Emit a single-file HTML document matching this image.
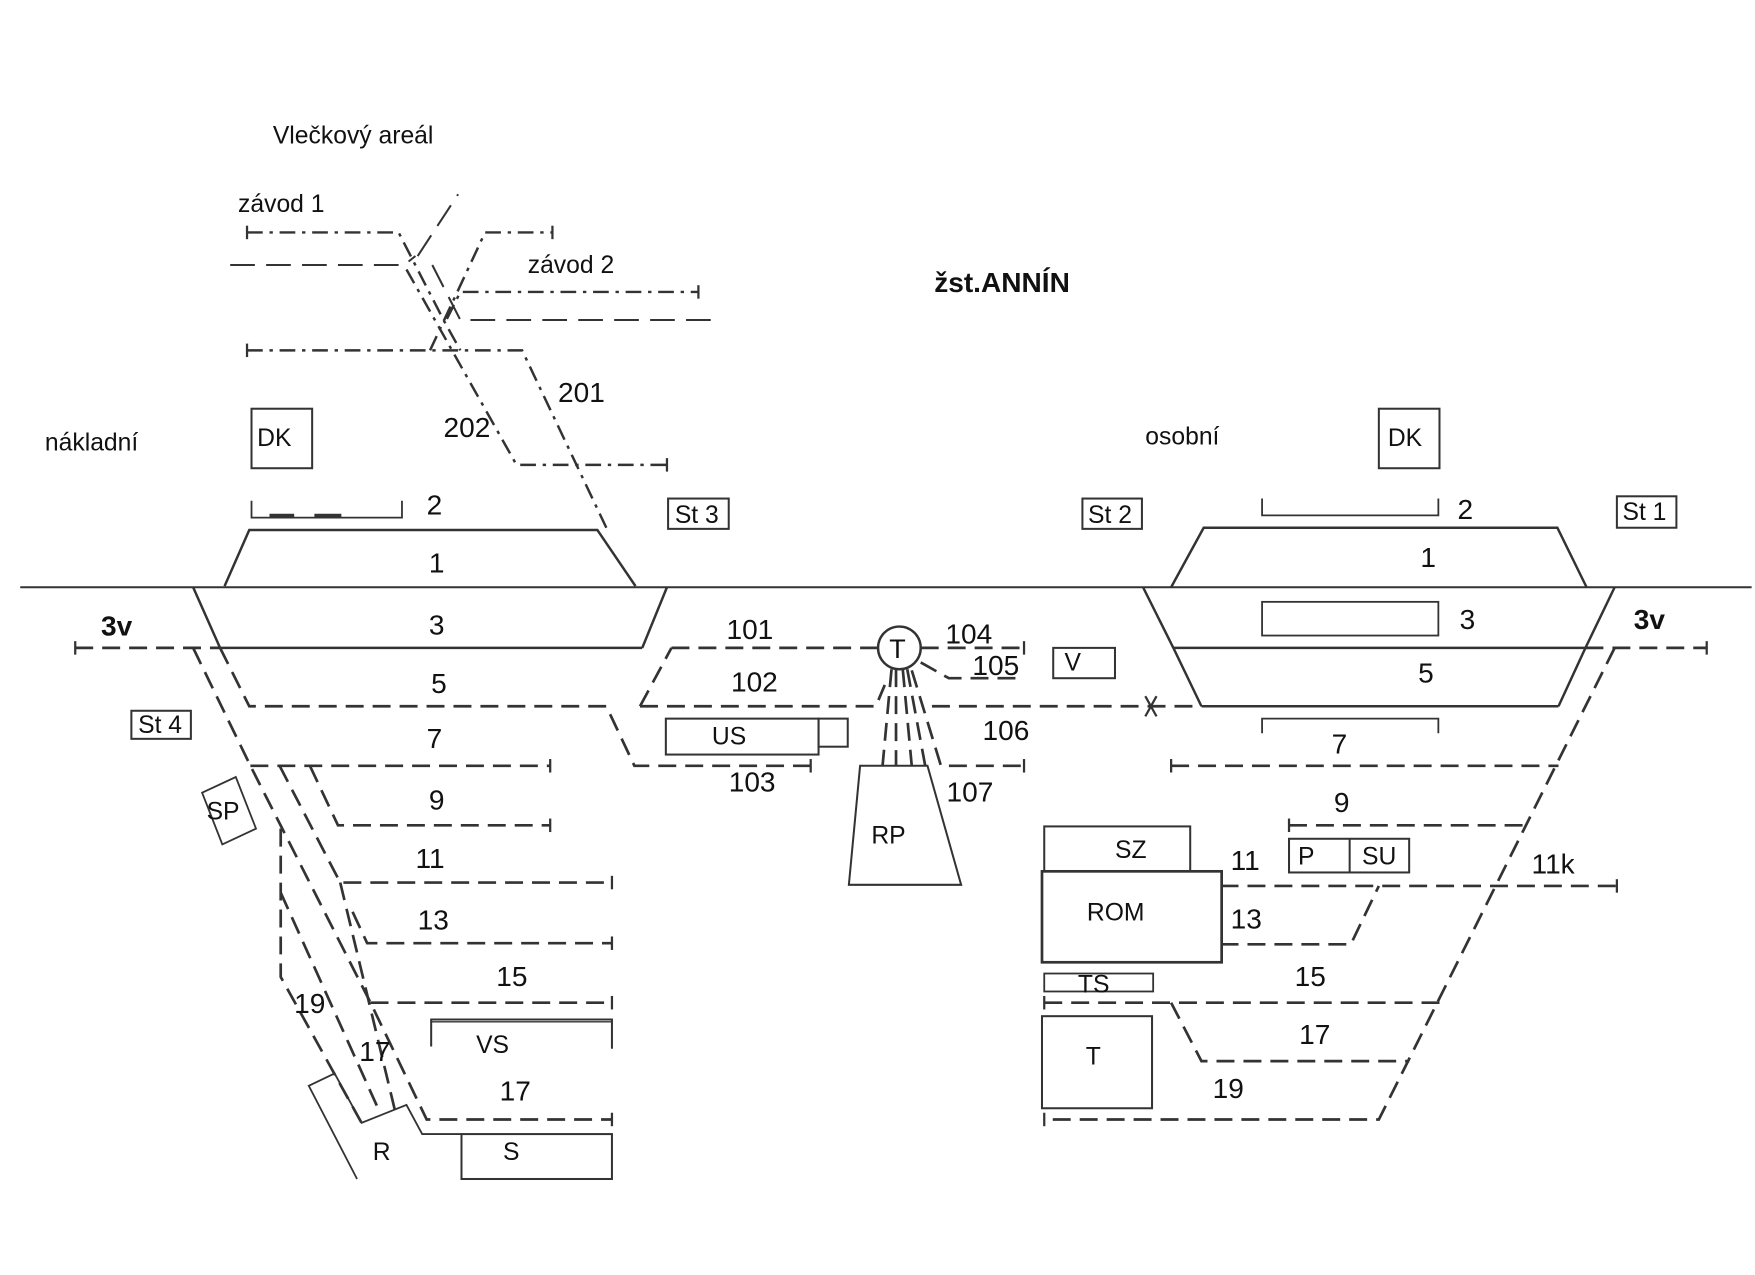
<!DOCTYPE html>
<html><head><meta charset="utf-8"><style>
html,body{margin:0;padding:0;background:#fff;}
svg{display:block;}
text{font-family:"Liberation Sans","DejaVu Sans",sans-serif;fill:#111;}
</style></head><body>
<svg width="1755" height="1275" viewBox="0 0 1563 1135.5" preserveAspectRatio="none" xmlns="http://www.w3.org/2000/svg">
<g fill="none" stroke="#333" stroke-width="2.2">
<line x1="18" y1="523" x2="1560" y2="523" stroke-width="1.8"/>
<polyline points="200,522 222,472 532,472 566,522"/>
<line x1="172" y1="523" x2="196" y2="577"/>
<line x1="594" y1="523" x2="572" y2="577"/>
<line x1="196" y1="577" x2="572" y2="577"/>
<polyline points="1043,523 1072,470 1387,470 1413,523"/>
<line x1="1018" y1="523" x2="1045" y2="577"/>
<line x1="1438" y1="523" x2="1412" y2="577"/>
<line x1="1045" y1="577" x2="1412" y2="577"/>
<line x1="1045" y1="577" x2="1070" y2="629"/>
<line x1="1412" y1="577" x2="1388" y2="629"/>
<line x1="1070" y1="629" x2="1388" y2="629"/>
<rect x="224" y="364" width="54" height="53" stroke-width="1.8"/>
<rect x="1228" y="364" width="54" height="53" stroke-width="1.8"/>
<rect x="595" y="444" width="54" height="27" stroke-width="1.8"/>
<rect x="964" y="444" width="53" height="27" stroke-width="1.8"/>
<rect x="1440" y="442" width="53" height="28" stroke-width="1.8"/>
<rect x="117" y="633" width="53" height="25" stroke-width="1.8"/>
<rect x="938" y="577" width="55" height="27" stroke-width="1.8"/>
<rect x="593" y="640" width="136" height="32" stroke-width="1.8"/>
<rect x="729" y="640" width="26" height="25" stroke-width="1.8"/>
<polygon points="766,682 826,682 856,788 756,788" stroke-width="1.8"/>
<polygon points="180,706 210,692 228,738 198,752" stroke-width="1.6"/>
<rect x="930" y="736" width="130" height="40" stroke-width="1.8"/>
<rect x="928" y="776" width="160" height="81" stroke-width="2.4"/>
<rect x="1148" y="747" width="107" height="30" stroke-width="1.8"/>
<line x1="1202" y1="747" x2="1202" y2="777" stroke-width="1.8"/>
<rect x="930" y="867" width="97" height="16" stroke-width="1.6"/>
<rect x="928" y="905" width="98" height="82" stroke-width="1.8"/>
<rect x="411" y="1010" width="134" height="40" stroke-width="1.8"/>
<polyline points="384,932 384,908 545,908 545,934" stroke-width="1.8"/>
<line x1="384" y1="910" x2="545" y2="910" stroke-width="1.2"/>
<polyline points="318,1050 275,967 298,956 322,1000 362,984 376,1010 411,1010" stroke-width="1.6"/>
<polyline points="224,446 224,461 358,461 358,446" stroke-width="1.6"/>
<line x1="240" y1="459" x2="262" y2="459" stroke-width="3"/><line x1="280" y1="459" x2="304" y2="459" stroke-width="3"/>
<polyline points="1124,444 1124,459 1281,459 1281,444" stroke-width="1.6"/>
<rect x="1124" y="536" width="157" height="30" stroke-width="1.6"/>
<polyline points="1124,653 1124,640 1281,640 1281,653" stroke-width="1.6"/>
<circle cx="801" cy="577" r="19"/>
</g>
<g fill="none" stroke="#333" stroke-width="2.4" stroke-dasharray="16 8">
<line x1="67" y1="577" x2="196" y2="577"/>
<line x1="598" y1="577" x2="782" y2="577"/>
<line x1="820" y1="577" x2="912" y2="577"/>
<polyline points="196,577 222,629 540,629 565,682 722,682"/>
<polyline points="570,629 598,577"/>
<polyline points="570,629 780,629 788,610"/>
<polyline points="830,629 1070,629"/>
<polyline points="812,597 838,682 912,682"/>
<polyline points="820,590 845,604 912,604"/>
<line x1="794" y1="596" x2="786" y2="682"/>
<line x1="798" y1="596" x2="798" y2="682"/>
<line x1="804" y1="596" x2="812" y2="682"/>
<line x1="808" y1="596" x2="824" y2="682"/>
<!-- left fan -->
<polyline points="172,577 223,682 330,893 380,997 545,997"/>
<polyline points="223,682 490,682"/>
<polyline points="276,682 301,735 490,735"/>
<polyline points="249,682 303,786 545,786"/>
<polyline points="303,786 352,990"/>
<polyline points="314,812 327,840 545,840"/>
<polyline points="330,893 545,893"/>
<polyline points="250,738 250,870 322,1000"/>
<polyline points="250,795 338,990"/>
<line x1="1412" y1="577" x2="1520" y2="577"/>
<polyline points="1438,577 1228,997 930,997"/>
<line x1="1043" y1="682" x2="1388" y2="682"/>
<line x1="1148" y1="735" x2="1362" y2="735"/>
<line x1="1087" y1="789" x2="1440" y2="789"/>
<polyline points="1087,841 1203,841 1228,789"/>
<line x1="930" y1="893" x2="1283" y2="893"/>
<polyline points="1043,893 1070,945 1255,945"/>
</g>
<g fill="none" stroke="#333" stroke-width="2.2" stroke-dasharray="14 6 3 6">
<polyline points="220,207 355,207 395,285 410,312"/>
<polyline points="220,312 465,312 540,470"/>
<polyline points="383,312 432,207 492,207"/>
<polyline points="398,284 410,260 622,260"/>
<polyline points="362,240 460,414 594,414"/>
</g>
<g fill="none" stroke="#333" stroke-width="1.8" stroke-dasharray="22 10">
<polyline points="205,236 360,236 370,228"/>
<polyline points="372,228 408,173"/>
<polyline points="385,236 410,285 640,285"/>
</g>
<g stroke="#333" stroke-width="2">
<line x1="67" y1="571" x2="67" y2="583"/><line x1="1520" y1="571" x2="1520" y2="583"/>
<line x1="220" y1="201" x2="220" y2="213"/><line x1="492" y1="201" x2="492" y2="213"/>
<line x1="220" y1="306" x2="220" y2="318"/><line x1="622" y1="254" x2="622" y2="266"/>
<line x1="594" y1="408" x2="594" y2="420"/>
<line x1="912" y1="571" x2="912" y2="583"/><line x1="912" y1="676" x2="912" y2="688"/>
<line x1="722" y1="676" x2="722" y2="688"/>
<line x1="490" y1="676" x2="490" y2="688"/><line x1="490" y1="729" x2="490" y2="741"/>
<line x1="545" y1="780" x2="545" y2="792"/><line x1="545" y1="834" x2="545" y2="846"/>
<line x1="545" y1="887" x2="545" y2="899"/><line x1="545" y1="991" x2="545" y2="1003"/>
<line x1="1440" y1="783" x2="1440" y2="795"/><line x1="930" y1="887" x2="930" y2="899"/>
<line x1="930" y1="991" x2="930" y2="1003"/><line x1="1043" y1="676" x2="1043" y2="688"/>
<line x1="1148" y1="729" x2="1148" y2="741"/>
<line x1="1020" y1="620" x2="1030" y2="638"/><line x1="1030" y1="620" x2="1020" y2="638"/>
</g>
<g font-size="22">
<text x="243" y="128">Vlečkový areál</text>
<text x="212" y="189">závod 1</text>
<text x="470" y="243">závod 2</text>
<text x="832" y="260" font-size="25" style="font-weight:600">žst.ANNÍN</text>
<text x="40" y="401">nákladní</text>
<text x="1020" y="396">osobní</text>
<text x="229" y="397">DK</text><text x="1236" y="397">DK</text>
<text x="601" y="466">St 3</text><text x="969" y="466">St 2</text><text x="1445" y="463">St 1</text>
<text x="123" y="653">St 4</text>
<text x="948" y="597">V</text>
<text x="634" y="663">US</text>
<text x="776" y="751">RP</text>
<text x="184" y="730">SP</text>
<text x="993" y="764">SZ</text>
<text x="968" y="820">ROM</text>
<text x="1156" y="770">P</text><text x="1213" y="770">SU</text>
<text x="960" y="884">TS</text>
<text x="967" y="948">T</text>
<text x="424" y="938">VS</text>
<text x="332" y="1033">R</text>
<text x="448" y="1033">S</text>
<text x="792" y="586" font-size="24">T</text>
</g>
<g font-size="25">
<text x="497" y="358">201</text><text x="395" y="389">202</text>
<text x="380" y="458">2</text><text x="382" y="510">1</text><text x="382" y="565">3</text>
<text x="90" y="566" font-weight="bold">3v</text>
<text x="384" y="617">5</text><text x="380" y="666">7</text><text x="382" y="721">9</text>
<text x="370" y="773">11</text><text x="372" y="828">13</text><text x="442" y="878">15</text>
<text x="445" y="980">17</text><text x="320" y="945">17</text><text x="262" y="902">19</text>
<text x="647" y="569">101</text><text x="651" y="616">102</text><text x="649" y="705">103</text>
<text x="842" y="573">104</text><text x="866" y="601">105</text><text x="875" y="659">106</text><text x="843" y="714">107</text>
<text x="1298" y="462">2</text><text x="1265" y="505">1</text><text x="1300" y="560">3</text>
<text x="1455" y="560" font-weight="bold">3v</text>
<text x="1263" y="608">5</text><text x="1186" y="671">7</text><text x="1188" y="723">9</text>
<text x="1096" y="775">11</text><text x="1364" y="778">11k</text><text x="1096" y="827">13</text>
<text x="1153" y="878">15</text><text x="1157" y="930">17</text><text x="1080" y="978">19</text>
</g>
</svg>
</body></html>
